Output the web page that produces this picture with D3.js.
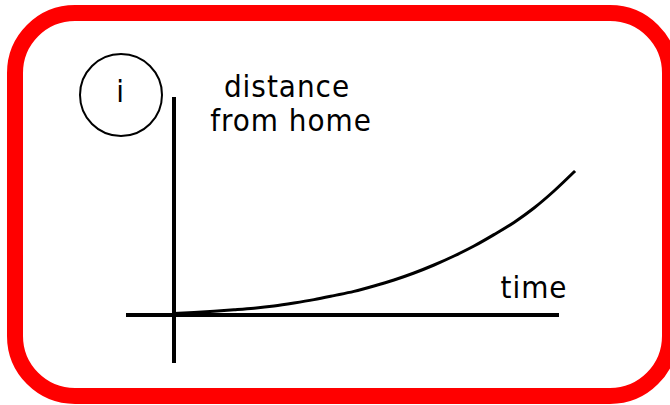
<!DOCTYPE html>
<html>
<head>
<meta charset="utf-8">
<script src="https://cdn.jsdelivr.net/npm/d3@7/dist/d3.min.js"></script>
<style>
  html, body { margin: 0; padding: 0; background: #fff; }
  svg { display: block; }
  text { font-family: "DejaVu Sans Condensed", "DejaVu Sans", sans-serif; fill: #000; }
</style>
</head>
<body>
<script>
// Distance from home over time: slow start, then speeding up.
const times = [0, 0.5, 1, 1.5, 2, 2.5, 3, 3.5, 4, 4.5, 5, 5.5, 6, 6.5, 7, 7.5, 8, 8.5, 9, 9.5, 10];
const distances = [0.08, 0.13, 0.19, 0.26, 0.34, 0.45, 0.6, 0.77, 0.97, 1.18, 1.45, 1.75, 2.1, 2.5, 2.95, 3.45, 4.02, 4.63, 5.35, 6.2, 7.15];

// How far each axis line runs, in data units
const timeAxisExtent = [-1.2, 9.63];
const distanceAxisExtent = [-2.4, 10.9];

const panelLabel = "i";
const yLabelLines = ["distance", "from home"];
const xLabel = "time";

const W = 670, H = 405;
const svg = d3.select("body").append("svg")
  .attr("width", W).attr("height", H);

// Rounded red frame
svg.append("rect")
  .attr("x", 15).attr("y", 13)
  .attr("width", 655).attr("height", 383)
  .attr("rx", 60).attr("ry", 60)
  .attr("fill", "#fff")
  .attr("stroke", "#ff0000")
  .attr("stroke-width", 16);

const x = d3.scaleLinear().domain([0, 10]).range([174, 574]);
const y = d3.scaleLinear().domain([0, 10]).range([315, 115]);

// Axes: plain crossing lines with no ticks
svg.append("line")
  .attr("x1", x(timeAxisExtent[0])).attr("x2", x(timeAxisExtent[1]))
  .attr("y1", y(0)).attr("y2", y(0))
  .attr("stroke", "#000").attr("stroke-width", 4)
  .attr("shape-rendering", "crispEdges");

svg.append("line")
  .attr("x1", x(0)).attr("x2", x(0))
  .attr("y1", y(distanceAxisExtent[0])).attr("y2", y(distanceAxisExtent[1]))
  .attr("stroke", "#000").attr("stroke-width", 4)
  .attr("shape-rendering", "crispEdges");

// Curve
const pts = times.map((t, i) => [t, distances[i]]);
const line = d3.line()
  .x(d => x(d[0]))
  .y(d => y(d[1]))
  .curve(d3.curveMonotoneX);

svg.append("path")
  .datum(pts)
  .attr("fill", "none")
  .attr("stroke", "#000")
  .attr("stroke-width", 3)
  .attr("stroke-linecap", "square")
  .attr("d", line);

// Panel marker
svg.append("circle")
  .attr("cx", 121).attr("cy", 95).attr("r", 41)
  .attr("fill", "none")
  .attr("stroke", "#000")
  .attr("stroke-width", 2);

svg.append("text")
  .attr("x", 120).attr("y", 102)
  .attr("text-anchor", "middle")
  .attr("font-size", 31)
  .text(panelLabel);

// Axis labels
const yl = svg.append("text")
  .attr("font-size", 31)
  .attr("letter-spacing", 1)
  .attr("text-anchor", "middle");
yl.selectAll("tspan")
  .data(yLabelLines)
  .join("tspan")
  .attr("x", (d, i) => i === 0 ? 287 : 291)
  .attr("y", (d, i) => 97 + i * 34)
  .text(d => d);

svg.append("text")
  .attr("x", 534).attr("y", 298)
  .attr("text-anchor", "middle")
  .attr("font-size", 31)
  .attr("letter-spacing", 1)
  .text(xLabel);
</script>
</body>
</html>
